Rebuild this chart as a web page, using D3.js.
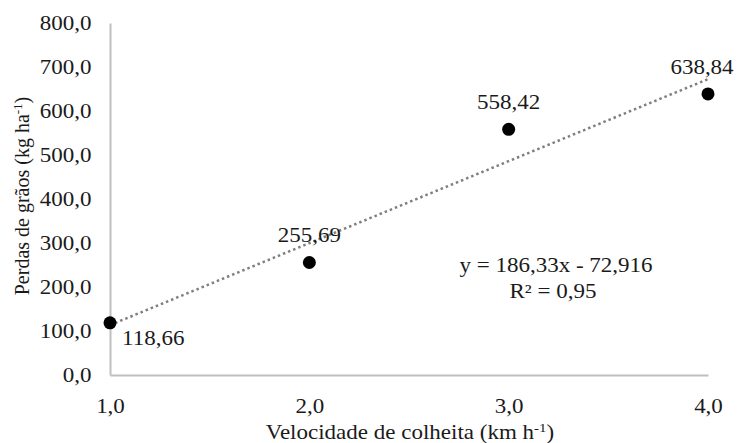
<!DOCTYPE html>
<html>
<head>
<meta charset="utf-8">
<script src="https://cdn.jsdelivr.net/npm/d3@7"></script>
<style>
  body { margin: 0; background: #fff; }
</style>
</head>
<body>
<script>
// velocidade de colheita (km/h) vs perdas de grãos (kg/ha)
var speeds = [1, 2, 3, 4];
var losses = [118.66, 255.69, 558.42, 638.84];
var xTicks = [1, 2, 3, 4];
var yTicks = [0, 100, 200, 300, 400, 500, 600, 700, 800];
// linear fit shown on chart
var slope = 186.33, intercept = -72.916, r2 = 0.95;
// where each data label sits relative to its dot
var labelSide = ["belowRight", "above", "above", "aboveLeft"];

var width = 738, height = 443;
var fs = 20;
var sx = 1.15;   // the original picture is a bit stretched sideways
var ink = "#1a1a1a";
var serif = "Liberation Serif, Times New Roman, serif";

var svg = d3.select("body").append("svg")
    .attr("width", width)
    .attr("height", height)
    .attr("font-family", serif);

var x = d3.scaleLinear().domain([1, 4]).range([110, 708]);
var y = d3.scaleLinear().domain([0, 800]).range([375, 23]);

var comma = d => d3.format(".1f")(d).replace(".", ",");

// text placed at px,py and widened by sx
function label(px, py, anchor) {
    return svg.append("text")
        .attr("transform", `translate(${px},${py}) scale(${sx},1)`)
        .attr("font-size", fs)
        .attr("fill", ink)
        .attr("text-anchor", anchor);
}

// axes
let gx = svg.append("g")
    .attr("transform", `translate(0,${y(0)})`)
    .call(d3.axisBottom(x).tickValues(xTicks).tickSize(0).tickPadding(24).tickFormat(comma));
let gy = svg.append("g")
    .attr("transform", `translate(${x(1)},0)`)
    .call(d3.axisLeft(y).tickValues(yTicks).tickSize(0).tickPadding(16).tickFormat(comma));

[gx, gy].forEach(g => {
    g.attr("font-size", fs).attr("font-family", serif);
    g.select(".domain").attr("stroke", "#bfbfbf").attr("stroke-width", 2);
    g.selectAll("text").attr("fill", ink).attr("transform", `scale(${sx},1)`);
});

// trend line
let fit = d => slope * d + intercept;
svg.append("line")
    .attr("x1", x(1)).attr("y1", y(fit(1)))
    .attr("x2", x(4)).attr("y2", y(fit(4)))
    .attr("stroke", "#7f7f7f")
    .attr("stroke-width", 2.5)
    .attr("stroke-dasharray", "2.5,3");

// points
let points = speeds.map((s, i) => ({x: s, y: losses[i], side: labelSide[i]}));
svg.selectAll(".dot")
    .data(points)
    .enter()
    .append("circle")
    .attr("class", "dot")
    .attr("cx", d => x(d.x))
    .attr("cy", d => y(d.y))
    .attr("r", 6.5)
    .attr("fill", "#000");

points.forEach(d => {
    let px = x(d.x), py = y(d.y);
    let t;
    if (d.side == "belowRight") t = label(px + 12, py + 22, "start");
    else if (d.side == "aboveLeft") t = label(px - 6, py - 20, "middle");
    else t = label(px, py - 20, "middle");
    t.text(d3.format(".2f")(d.y).replace(".", ","));
});

// equation
label(556, 272, "middle")
    .text(`y = ${String(slope).replace(".", ",")}x - ${String(-intercept).replace(".", ",")}`);
label(553, 298, "middle")
    .text(`R² = ${r2.toFixed(2).replace(".", ",")}`);

// axis titles
let xt = label(410, 439, "middle");
xt.append("tspan").text("Velocidade de colheita (km h");
xt.append("tspan").attr("font-size", 13).attr("dy", -7).text("-1");
xt.append("tspan").attr("dy", 7).text(")");

let yt = svg.append("text")
    .attr("font-size", fs)
    .attr("fill", ink)
    .attr("text-anchor", "middle")
    .attr("transform", "translate(29,196) rotate(-90)");
yt.append("tspan").text("Perdas de grãos (kg ha");
yt.append("tspan").attr("font-size", 13).attr("dy", -7).text("-1");
yt.append("tspan").attr("dy", 7).text(")");
</script>
</body>
</html>
